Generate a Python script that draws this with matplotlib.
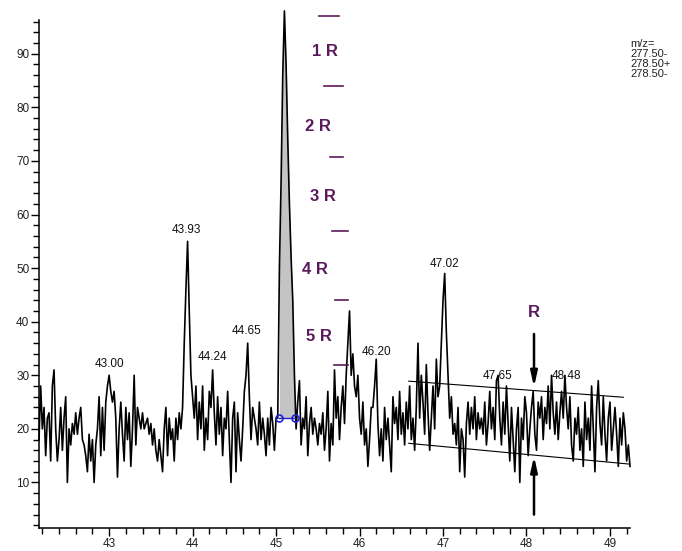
import numpy as np
import matplotlib.pyplot as plt
from matplotlib.ticker import MultipleLocator

plt.rcParams['font.family'] = ['Liberation Sans', 'DejaVu Sans']

# chromatogram trace, sampled every 0.02 min starting at 42.16 min
t_start = 42.16
t_step = 0.02
intensity = [
    18, 28, 20, 24, 15,   22, 23, 14, 28, 31,   20, 14, 18, 24, 16,
    22, 26, 10, 20, 17,   21, 19, 23, 19, 22,   24, 18, 17, 15, 12,
    19, 14, 18, 10, 17,   20, 26, 15, 24, 16,   25, 28, 30, 27, 25,
    27, 22, 11, 20, 25,   19, 14, 24, 18, 23,   13, 20, 30, 17, 24,
    22, 20, 23, 20, 21,   22, 19, 21, 17, 20,   16, 14, 18, 15, 12,
    20, 24, 15, 22, 18,   20, 14, 22, 18, 23,   20, 24, 36, 46, 55,
    42, 30, 26, 22, 28,   18, 25, 20, 28, 16,   22, 18, 27, 24, 31,
    23, 17, 26, 19, 24,   15, 22, 20, 27, 18,   10, 22, 25, 12, 23,
    18, 14, 20, 27, 30,   36, 26, 18, 24, 22,   20, 17, 25, 18, 22,
    19, 15, 22, 17, 24,   21, 16, 22, 22, 50,   66, 86, 98, 88, 74,
    62, 52, 44, 30, 20,   25, 29, 17, 22, 20,   26, 15, 21, 24, 19,
    22, 20, 17, 21, 19,   23, 16, 20, 27, 14,   21, 17, 31, 22, 26,
    18, 24, 28, 21, 30,   36, 42, 30, 34, 28,   26, 30, 22, 19, 25,
    17, 20, 13, 18, 24,   24, 28, 33, 21, 15,   20, 14, 24, 18, 22,
    17, 12, 26, 21, 24,   18, 27, 19, 23, 17,   25, 20, 28, 18, 22,
    16, 24, 36, 22, 30,   25, 19, 32, 23, 16,   22, 28, 20, 33, 26,
    28, 36, 44, 49, 38,   30, 22, 26, 19, 21,   17, 24, 12, 20, 18,
    11, 21, 25, 19, 24,   20, 26, 18, 23, 20,   22, 19, 25, 17, 21,
    27, 20, 24, 18, 29,   30, 22, 17, 25, 19,   28, 21, 14, 24, 18,
    12, 20, 24, 10, 22,   18, 26, 23, 15, 20,   24, 27, 19, 16, 25,
    22, 26, 18, 24, 21,   28, 20, 30, 23, 19,   25, 18, 23, 27, 22,
    30, 24, 20, 26, 17,   14, 22, 19, 24, 16,   20, 13, 25, 18, 22,
    16, 28, 20, 12, 24,   29, 21, 17, 26, 19,   14, 22, 25, 16, 20,
    24, 19, 13, 22, 17,   23, 20, 14, 17, 13,
]

peak_names = ['43.00', '43.93', '44.24', '44.65', '46.20', '47.02', '47.65', '48.48']
peak_text_y = [32.1, 57.1, 33.4, 38.2, 34.3, 50.7, 29.8, 29.8]

# integrated peak
peak_start, peak_end, peak_base = 45.03, 45.23, 22.0

# signal-to-noise ladder
ladder_levels = [97.1, 84.0, 70.7, 56.9, 44.0, 31.9]
ladder_x0 = [45.52, 45.57, 45.65, 45.67, 45.71, 45.69]
ladder_x1 = [45.75, 45.80, 45.80, 45.86, 45.86, 45.86]
ladder_names = ['1 R', '2 R', '3 R', '4 R', '5 R']
ladder_text_x = [45.59, 45.50, 45.56, 45.46, 45.51]
ladder_text_y = [90.4, 76.5, 63.3, 49.8, 37.3]

# noise envelope
noise_upper = ([46.59, 49.16], [28.9, 25.9])
noise_lower = ([46.59, 49.25], [17.3, 13.4])
noise_x = 48.09

mz_lines = ['m/z=', '277.50-', '278.50+', '278.50-']

t = t_start + t_step * np.arange(len(intensity))
y = np.array(intensity, dtype=float)

purple = '#5b1a5b'
fig = plt.figure(figsize=(6.82, 5.51), dpi=100)
ax = fig.add_axes([39 / 682, 1 - 528 / 551, (630 - 39) / 682, (528 - 20) / 551])

mask = (t >= peak_start - 0.01) & (t <= peak_end + 0.01)
ax.fill_between(t[mask], peak_base, y[mask], color='#c4c4c4', lw=0, zorder=1)
ax.plot(t, y, color='black', lw=1.2, zorder=2, clip_on=False)
ax.plot([peak_start, peak_end], [peak_base, peak_base], color='#2222cc', lw=1,
        marker='o', ms=5, mfc='none', mew=1.2, zorder=3)

for name, ty in zip(peak_names, peak_text_y):
    ax.text(float(name), ty, name, ha='center', va='center', fontsize=8.5, color='#111')

for lev, a, b in zip(ladder_levels, ladder_x0, ladder_x1):
    ax.plot([a, b], [lev, lev], color=purple, lw=1.2, clip_on=False)
for name, tx, ty in zip(ladder_names, ladder_text_x, ladder_text_y):
    ax.text(tx, ty, name, ha='center', va='center', fontsize=12, fontweight='bold', color=purple)

ax.plot(*noise_upper, color='black', lw=0.8)
ax.plot(*noise_lower, color='black', lw=0.8)
arrow = dict(arrowstyle='-|>,head_length=0.9,head_width=0.2', color='black', lw=1.8, shrinkA=0, shrinkB=0)
ax.annotate('', xy=(noise_x, 27.8), xytext=(noise_x, 37.7), arrowprops=arrow)
ax.annotate('', xy=(noise_x, 14.9), xytext=(noise_x, 4.0), arrowprops=arrow)
ax.text(noise_x, 41.8, 'R', ha='center', va='center', fontsize=12, fontweight='bold', color=purple)

for i, s in enumerate(mz_lines):
    fig.text(630 / 682, 1 - (44 + 10 * i) / 551, s, ha='left', va='center', fontsize=8, color='#222')

ax.set_xlim(42.16, 49.24)
ax.set_ylim(1.5, 96.3)
ax.xaxis.set_major_locator(MultipleLocator(1))
ax.xaxis.set_minor_locator(MultipleLocator(0.2))
ax.yaxis.set_minor_locator(MultipleLocator(2))
ax.set_yticks([10, 20, 30, 40, 50, 60, 70, 80, 90])
for s in ['top', 'right']:
    ax.spines[s].set_visible(False)
for s in ['left', 'bottom']:
    ax.spines[s].set_linewidth(1.1)
ax.tick_params(which='major', length=6, width=1, labelsize=8.5, labelcolor='#222')
ax.tick_params(which='minor', length=4, width=1)
ax.tick_params(axis='y', pad=1)
ax.tick_params(axis='x', pad=1)

fig.savefig('out.png', dpi=100)
